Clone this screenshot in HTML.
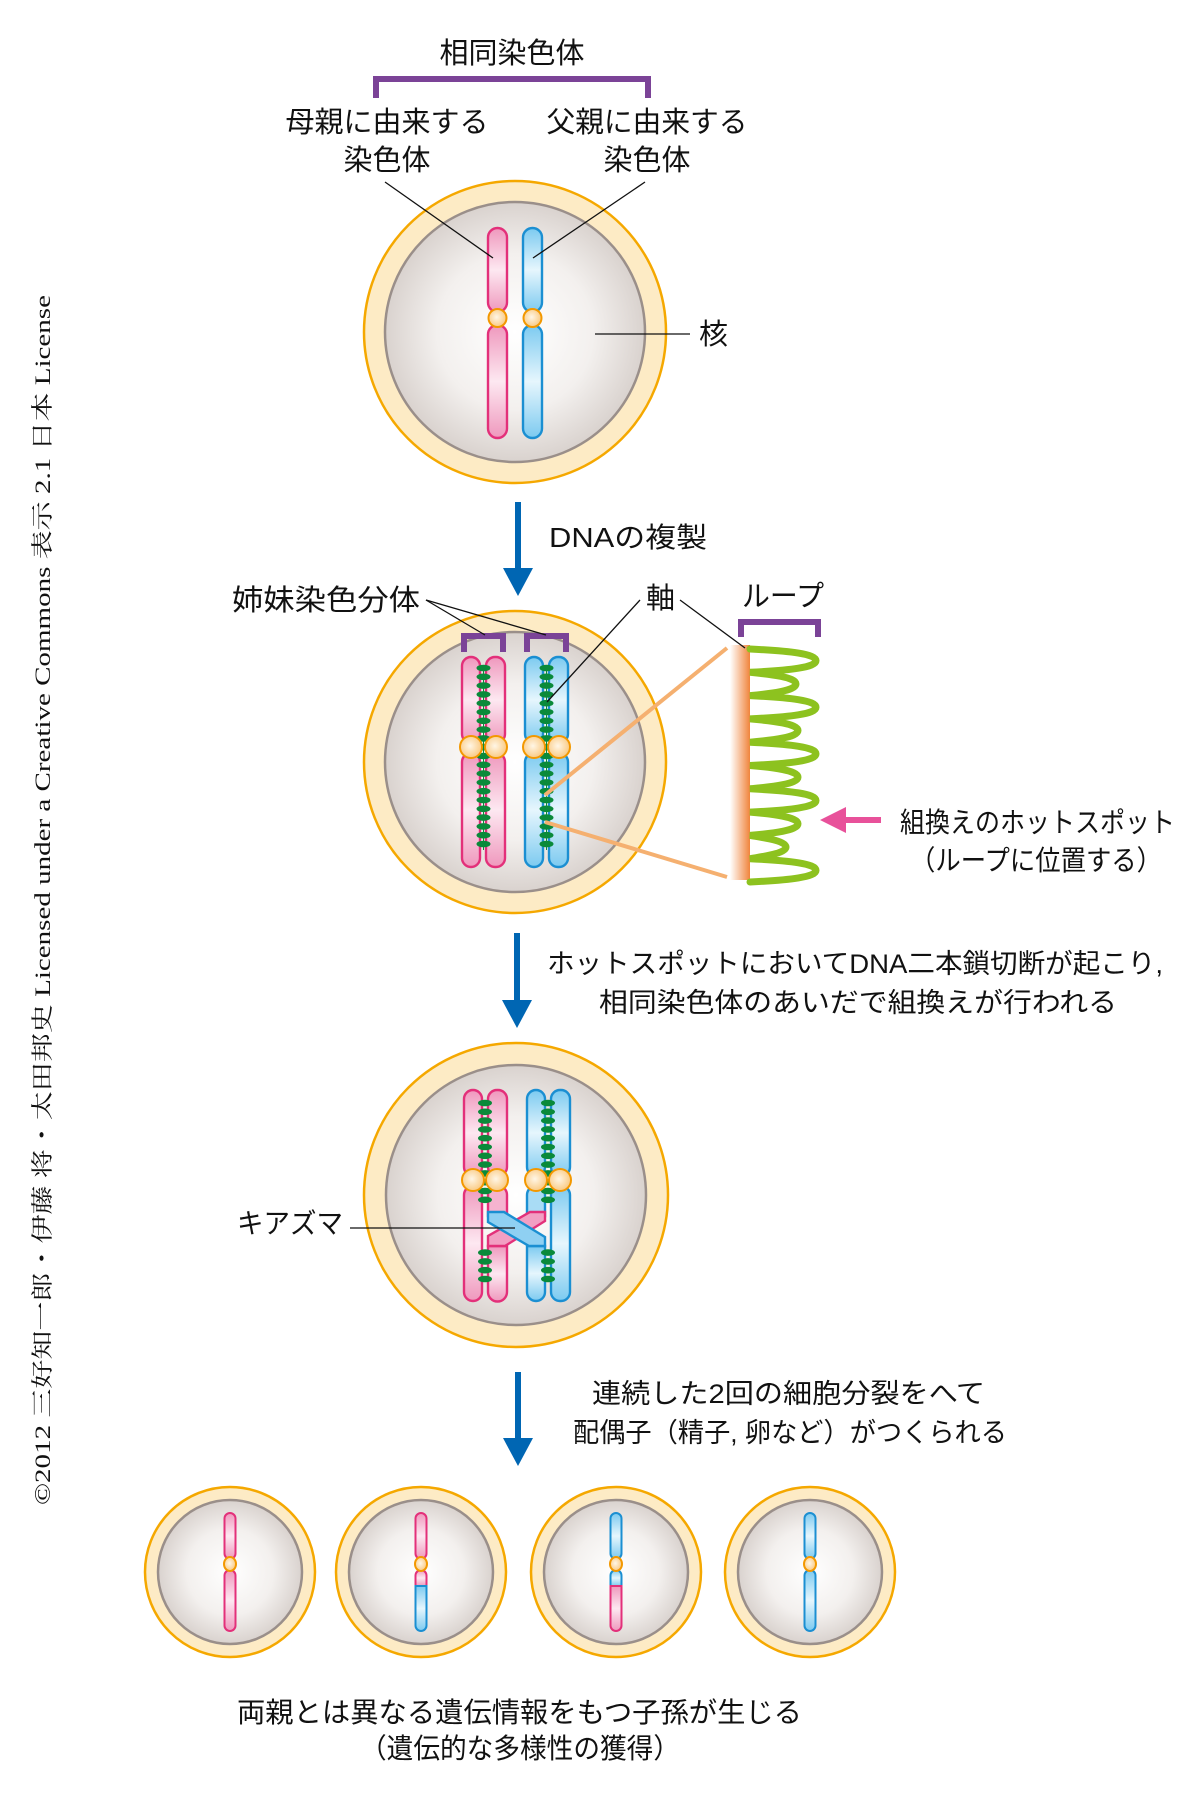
<!DOCTYPE html>
<html><head><meta charset="utf-8"><style>
html,body{margin:0;padding:0;background:#fff}
svg{display:block}
text{font-family:"Liberation Sans","Noto Sans CJK JP",sans-serif;fill:#111}
</style></head><body>
<svg width="1200" height="1813" viewBox="0 0 1200 1813" xmlns="http://www.w3.org/2000/svg">
<defs>
<radialGradient id="nuc" cx="0.5" cy="0.5" r="0.5">
<stop offset="0" stop-color="#ffffff"/><stop offset="0.6" stop-color="#f3f0ee"/><stop offset="1" stop-color="#d9d2ce"/>
</radialGradient>
<linearGradient id="pk" x1="0" y1="0" x2="0" y2="1">
<stop offset="0" stop-color="#ef98bd"/><stop offset="0.5" stop-color="#fde8f1"/><stop offset="1" stop-color="#ef98bd"/>
</linearGradient>
<linearGradient id="bl" x1="0" y1="0" x2="0" y2="1">
<stop offset="0" stop-color="#7ccaf0"/><stop offset="0.5" stop-color="#e6f6fd"/><stop offset="1" stop-color="#7ccaf0"/>
</linearGradient>
<radialGradient id="cen" cx="0.45" cy="0.45" r="0.6">
<stop offset="0" stop-color="#fff6e6"/><stop offset="1" stop-color="#f9c67a"/>
</radialGradient>
<linearGradient id="bar" x1="0" y1="0" x2="1" y2="0">
<stop offset="0" stop-color="#ffffff"/><stop offset="1" stop-color="#f0843c"/>
</linearGradient>
</defs>

<text transform="translate(50,900) rotate(-90)" text-anchor="middle" font-size="22" textLength="1210" lengthAdjust="spacingAndGlyphs" style="font-family:'Liberation Serif','Noto Serif CJK SC',serif">©2012 三好知一郎・伊藤 将・太田邦史 Licensed under a Creative Commons 表示 2.1 日本 License</text>

<text x="512" y="63" text-anchor="middle" font-size="29">相同染色体</text>
<path d="M376 98 V79 H648 V98" fill="none" stroke="#7b4397" stroke-width="6"/>
<text x="387" y="132" text-anchor="middle" font-size="29" textLength="203" lengthAdjust="spacingAndGlyphs">母親に由来する</text>
<text x="387" y="170" text-anchor="middle" font-size="29">染色体</text>
<text x="647" y="132" text-anchor="middle" font-size="29" textLength="201" lengthAdjust="spacingAndGlyphs">父親に由来する</text>
<text x="647" y="170" text-anchor="middle" font-size="29">染色体</text>

<circle cx="515" cy="332" r="151" fill="#fdebc5" stroke="#f5a800" stroke-width="2.5"/>
<circle cx="515" cy="332" r="130" fill="url(#nuc)" stroke="#9a8f8a" stroke-width="2.5"/>
<g stroke-width="2.4">
<rect x="488" y="228" width="19" height="84" rx="9.5" fill="url(#pk)" stroke="#e3307a"/>
<rect x="488" y="325" width="19" height="113" rx="9.5" fill="url(#pk)" stroke="#e3307a"/>
<rect x="523" y="228" width="19" height="84" rx="9.5" fill="url(#bl)" stroke="#1b8fd2"/>
<rect x="523" y="325" width="19" height="113" rx="9.5" fill="url(#bl)" stroke="#1b8fd2"/>
</g>
<circle cx="497.5" cy="318" r="9" fill="url(#cen)" stroke="#f39800" stroke-width="2"/>
<circle cx="532.5" cy="318" r="9" fill="url(#cen)" stroke="#f39800" stroke-width="2"/>
<line x1="385" y1="182" x2="493" y2="258" stroke="#111" stroke-width="1.3"/>
<line x1="645" y1="182" x2="533" y2="258" stroke="#111" stroke-width="1.3"/>
<line x1="595" y1="334" x2="690" y2="334" stroke="#111" stroke-width="1.3"/>
<text x="699" y="344" font-size="29">核</text>

<line x1="518" y1="502" x2="518" y2="572" stroke="#0066b3" stroke-width="6"/>
<polygon points="503,568 533,568 518,596" fill="#0066b3"/>
<text x="549" y="547" font-size="28" textLength="158" lengthAdjust="spacingAndGlyphs">DNAの複製</text>

<circle cx="515" cy="762" r="151" fill="#fdebc5" stroke="#f5a800" stroke-width="2.5"/>
<circle cx="515" cy="762" r="130" fill="url(#nuc)" stroke="#9a8f8a" stroke-width="2.5"/>
<path d="M464 652 V636 H503 V652 M527 652 V636 H566 V652" fill="none" stroke="#7b4397" stroke-width="6"/>
<g stroke-width="2.4">
<rect x="462" y="657" width="18" height="86" rx="9" fill="url(#pk)" stroke="#e3307a"/>
<rect x="486" y="657" width="19" height="86" rx="9" fill="url(#pk)" stroke="#e3307a"/>
<rect x="462" y="753" width="18" height="114" rx="9" fill="url(#pk)" stroke="#e3307a"/>
<rect x="486" y="753" width="19" height="114" rx="9" fill="url(#pk)" stroke="#e3307a"/>
<rect x="525" y="657" width="18" height="86" rx="9" fill="url(#bl)" stroke="#1b8fd2"/>
<rect x="549" y="657" width="19" height="86" rx="9" fill="url(#bl)" stroke="#1b8fd2"/>
<rect x="525" y="753" width="18" height="114" rx="9" fill="url(#bl)" stroke="#1b8fd2"/>
<rect x="549" y="753" width="19" height="114" rx="9" fill="url(#bl)" stroke="#1b8fd2"/>
</g>
<g id="dots2" fill="#0a8a3a">
<line x1="483.5" y1="670" x2="483.5" y2="850" stroke="#0a8a3a" stroke-width="1"/>
<line x1="546.5" y1="670" x2="546.5" y2="850" stroke="#0a8a3a" stroke-width="1"/>
</g>
<g fill="url(#cen)" stroke="#f39800" stroke-width="2">
<circle cx="471" cy="747" r="11"/><circle cx="496" cy="747" r="11"/>
<circle cx="534" cy="747" r="11"/><circle cx="559" cy="747" r="11"/>
</g>
<line x1="545" y1="795" x2="727" y2="648" stroke="#f5b070" stroke-width="4"/>
<line x1="545" y1="822" x2="727" y2="877" stroke="#f5b070" stroke-width="4"/>
<rect x="730" y="645" width="20" height="235" fill="url(#bar)"/>
<path id="loops" fill="none" stroke="#8dc21f" stroke-width="7" stroke-linecap="round" d=""/>
<path d="M741 637 V622 H818 V637" fill="none" stroke="#7b4397" stroke-width="6"/>
<text x="232" y="610" font-size="29" textLength="188" lengthAdjust="spacingAndGlyphs">姉妹染色分体</text>
<line x1="426" y1="600" x2="485" y2="635" stroke="#111" stroke-width="1.3"/>
<line x1="426" y1="600" x2="546" y2="635" stroke="#111" stroke-width="1.3"/>
<text x="646" y="608" font-size="29">軸</text>
<line x1="640" y1="600" x2="547" y2="702" stroke="#111" stroke-width="1.3"/>
<line x1="680" y1="600" x2="745" y2="648" stroke="#111" stroke-width="1.3"/>
<text x="742" y="606" font-size="29" textLength="82" lengthAdjust="spacingAndGlyphs">ループ</text>
<line x1="845" y1="820" x2="881" y2="820" stroke="#e8519a" stroke-width="6"/>
<polygon points="820,820 846,807 846,833" fill="#e8519a"/>
<text x="900" y="832" font-size="28" textLength="275" lengthAdjust="spacingAndGlyphs">組換えのホットスポット</text>
<text x="910" y="870" font-size="28" textLength="252" lengthAdjust="spacingAndGlyphs">（ループに位置する）</text>

<line x1="517" y1="933" x2="517" y2="1003" stroke="#0066b3" stroke-width="6"/>
<polygon points="502,1000 532,1000 517,1028" fill="#0066b3"/>
<text x="547" y="973" font-size="27" textLength="616" lengthAdjust="spacingAndGlyphs">ホットスポットにおいてDNA二本鎖切断が起こり,</text>
<text x="599" y="1012" font-size="27" textLength="518" lengthAdjust="spacingAndGlyphs">相同染色体のあいだで組換えが行われる</text>

<circle cx="516" cy="1195" r="152" fill="#fdebc5" stroke="#f5a800" stroke-width="2.5"/>
<circle cx="516" cy="1195" r="130" fill="url(#nuc)" stroke="#9a8f8a" stroke-width="2.5"/>
<g stroke-width="2.4">
<rect x="464" y="1090" width="18" height="86" rx="9" fill="url(#pk)" stroke="#e3307a"/>
<rect x="488" y="1090" width="19" height="86" rx="9" fill="url(#pk)" stroke="#e3307a"/>
<rect x="527" y="1090" width="18" height="86" rx="9" fill="url(#bl)" stroke="#1b8fd2"/>
<rect x="551" y="1090" width="19" height="86" rx="9" fill="url(#bl)" stroke="#1b8fd2"/>
<rect x="464" y="1186" width="18" height="115" rx="9" fill="url(#pk)" stroke="#e3307a"/>
<rect x="551" y="1186" width="19" height="115" rx="9" fill="url(#bl)" stroke="#1b8fd2"/>
<path d="M488 1216 V1195 a9.5 9.5 0 0 1 19 0 V1216 Z" fill="#f5b3cf" stroke="#e3307a"/>
<path d="M527 1216 V1195 a9 9 0 0 1 18 0 V1216 Z" fill="#a9dcf5" stroke="#1b8fd2"/>
<path d="M488 1246 H507 V1292 a9.5 9.5 0 0 1 -19 0 Z" fill="url(#pk)" stroke="#e3307a"/>
<path d="M527 1246 H545 V1292 a9 9 0 0 1 -18 0 Z" fill="url(#bl)" stroke="#1b8fd2"/>
<polygon points="488,1246 488,1236 530,1212 545,1212 545,1221 505,1246" fill="#f29fc3" stroke="#e3307a"/>
<polygon points="488,1212 504,1212 545,1237 545,1246 529,1246 488,1222" fill="#8fd0f2" stroke="#1b8fd2"/>
</g>
<g id="dots3"></g>
<g fill="url(#cen)" stroke="#f39800" stroke-width="2">
<circle cx="473" cy="1180" r="11"/><circle cx="497" cy="1180" r="11"/>
<circle cx="536" cy="1180" r="11"/><circle cx="560" cy="1180" r="11"/>
</g>
<line x1="350" y1="1228" x2="515" y2="1228" stroke="#111" stroke-width="1.3"/>
<text x="237" y="1233" font-size="28" textLength="106" lengthAdjust="spacingAndGlyphs">キアズマ</text>

<line x1="518" y1="1372" x2="518" y2="1442" stroke="#0066b3" stroke-width="6"/>
<polygon points="503,1438 533,1438 518,1466" fill="#0066b3"/>
<text x="592" y="1403" font-size="27" textLength="393" lengthAdjust="spacingAndGlyphs">連続した2回の細胞分裂をへて</text>
<text x="573" y="1442" font-size="27" textLength="434" lengthAdjust="spacingAndGlyphs">配偶子（精子, 卵など）がつくられる</text>

<g id="small"></g>

<text x="237" y="1722" font-size="28" textLength="565" lengthAdjust="spacingAndGlyphs">両親とは異なる遺伝情報をもつ子孫が生じる</text>
<text x="360" y="1758" font-size="28" textLength="320" lengthAdjust="spacingAndGlyphs">（遺伝的な多様性の獲得）</text>
</svg>
<script>
var NS="http://www.w3.org/2000/svg";
function el(t,a,p){var e=document.createElementNS(NS,t);for(var k in a)e.setAttribute(k,a[k]);(p||document.querySelector('svg')).appendChild(e);return e;}
var d="M750 649",y=649,h=23.3,R=[816,796,816,798,816,798,816,798,786,816];
for(var i=0;i<10;i++){var r=R[i];d+=" C"+(r-25)+" "+(y+2)+" "+(r)+" "+(y+5)+" "+(r)+" "+(y+h/2)+" C"+(r)+" "+(y+h-5)+" "+(r-25)+" "+(y+h-2)+" 750 "+(y+h);y+=h;}
document.getElementById('loops').setAttribute('d',d);
var g2=document.getElementById('dots2');
for(var yy=668;yy<=852;yy+=8.8){el('ellipse',{cx:483.5,cy:yy,rx:7,ry:3.3},g2);el('ellipse',{cx:546.5,cy:yy,rx:7,ry:3.3},g2);}
var g3=document.getElementById('dots3');
for(var yy=1103;yy<=1285;yy+=8.8){ if(yy>1208&&yy<1248){continue;}
 el('ellipse',{cx:485,cy:yy,rx:7,ry:3.3,fill:'#0a8a3a'},g3);el('ellipse',{cx:548,cy:yy,rx:7,ry:3.3,fill:'#0a8a3a'},g3);}
var gs=document.getElementById('small');
var cx=[230,421,616,810];
var P={f:'url(#pk)',s:'#e3307a'},B={f:'url(#bl)',s:'#1b8fd2'};
var cfg=[[P,P,P],[P,P,B],[B,B,P],[B,B,B]];
for(var i=0;i<4;i++){var c=cx[i];
 el('circle',{cx:c,cy:1572,r:85,fill:'#fdebc5',stroke:'#f5a800','stroke-width':2.5},gs);
 el('circle',{cx:c,cy:1572,r:72,fill:'url(#nuc)',stroke:'#9a8f8a','stroke-width':2.5},gs);
 var u=cfg[i][0],l1=cfg[i][1],l2=cfg[i][2];
 el('rect',{x:c-5.5,y:1513,width:11,height:46,rx:5.5,fill:u.f,stroke:u.s,'stroke-width':2},gs);
 if(l1===l2){el('rect',{x:c-5.5,y:1570,width:11,height:61,rx:5.5,fill:l1.f,stroke:l1.s,'stroke-width':2},gs);}
 else{
  el('path',{d:'M'+(c-5.5)+' 1586 V1575.5 a5.5 5.5 0 0 1 11 0 V1586 Z',fill:l1.f,stroke:l1.s,'stroke-width':2},gs);
  el('path',{d:'M'+(c-5.5)+' 1586 H'+(c+5.5)+' V1625.5 a5.5 5.5 0 0 1 -11 0 Z',fill:l2.f,stroke:l2.s,'stroke-width':2},gs);
 }
 el('ellipse',{cx:c,cy:1564,rx:6,ry:7,fill:'url(#cen)',stroke:'#f39800','stroke-width':2},gs);
}
</script>
</body></html>
